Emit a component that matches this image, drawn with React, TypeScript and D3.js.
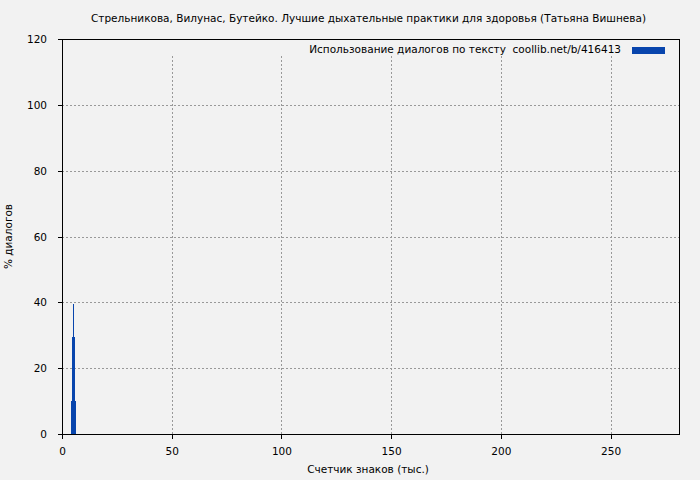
import React from 'react';
import * as d3 from 'd3';

// chart data
const title =
  'Стрельникова, Вилунас, Бутейко. Лучшие дыхательные практики для здоровья (Татьяна Вишнева)';
const legendLabel = 'Использование диалогов по тексту  coollib.net/b/416413';
const xLabel = 'Счетчик знаков (тыс.)';
const yLabel = '% диалогов';

const xTicks = [0, 50, 100, 150, 200, 250];
const yTicks = [0, 20, 40, 60, 80, 100, 120];

// overlapping impulses at the same position, drawn widest first
const barPositions = [5, 5, 5];
const barValues = [10, 29.5, 39.5];

const W = 700;
const H = 480;
const margin = { left: 62, right: 21, top: 39, bottom: 46 };
const barWidths = [5, 3, 1];
const blue = '#0845ad';
const font = 'DejaVu Sans, sans-serif';

export default function App() {
  const x = d3
    .scaleLinear()
    .domain([0, 281.2])
    .range([margin.left, W - margin.right]);
  const y = d3
    .scaleLinear()
    .domain([0, 120])
    .range([H - margin.bottom, margin.top]);

  const [x0, x1] = x.range();
  const [y0, y1] = y.range();

  return (
    <svg
      width={W}
      height={H}
      style={{ position: 'absolute', left: 0, top: 0, background: '#f2f2f2' }}
      fontFamily={font}
      fontSize={10.5}
    >
      <rect x={0} y={0} width={W} height={H} fill="#f2f2f2" />

      {/* grid */}
      {xTicks
        .filter((t) => t > 0)
        .map((t) => (
          <line
            key={'gx' + t}
            x1={Math.round(x(t)) + 0.5}
            x2={Math.round(x(t)) + 0.5}
            y1={y0}
            y2={y1}
            stroke="#999"
            strokeWidth={1}
            strokeDasharray="2,2"
          />
        ))}
      {yTicks
        .filter((t) => t > 0 && t < 120)
        .map((t) => (
          <line
            key={'gy' + t}
            x1={x0}
            x2={x1}
            y1={Math.round(y(t)) + 0.5}
            y2={Math.round(y(t)) + 0.5}
            stroke="#999"
            strokeWidth={1}
            strokeDasharray="2,2"
          />
        ))}

      {/* key background hides the grid */}
      <rect x={x0 + 1} y={y1 + 1} width={x1 - x0 - 2} height={16} fill="#f2f2f2" />

      {/* bars */}
      <g shapeRendering="crispEdges">
        {barValues.map((v, i) => (
          <rect
            key={'b' + i}
            x={Math.round(x(barPositions[i]) + 0.5 - barWidths[i] / 2)}
            y={Math.round(y(v))}
            width={barWidths[i]}
            height={Math.round(y(0)) - Math.round(y(v))}
            fill={blue}
          />
        ))}
      </g>

      {/* frame */}
      <rect
        x={x0 + 0.5}
        y={y1 + 0.5}
        width={x1 - x0}
        height={y0 - y1}
        fill="none"
        stroke="#000"
        strokeWidth={1}
      />

      {/* x ticks */}
      {xTicks.map((t) => (
        <g key={'xt' + t}>
          <line
            x1={Math.round(x(t)) + 0.5}
            x2={Math.round(x(t)) + 0.5}
            y1={y0}
            y2={y0 + 5}
            stroke="#000"
          />
          <text x={x(t) + 0.5} y={y0 + 21} textAnchor="middle" fill="#000">
            {t}
          </text>
        </g>
      ))}

      {/* y ticks */}
      {yTicks.map((t) => (
        <g key={'yt' + t}>
          <line
            x1={x0 - 4}
            x2={x0}
            y1={Math.round(y(t)) + 0.5}
            y2={Math.round(y(t)) + 0.5}
            stroke="#000"
          />
          <text x={x0 - 15} y={y(t) + 4} textAnchor="end" fill="#000">
            {t}
          </text>
        </g>
      ))}

      {/* key */}
      <text x={621} y={53} textAnchor="end" fill="#000" style={{ whiteSpace: 'pre' }}>
        {legendLabel}
      </text>
      <rect x={632} y={47} width={33} height={7} fill={blue} />

      {/* titles */}
      <text x={368.5} y={22} textAnchor="middle" fill="#000">
        {title}
      </text>
      <text x={368} y={473} textAnchor="middle" fill="#000">
        {xLabel}
      </text>
      <text
        transform={`translate(12,${(y0 + y1) / 2}) rotate(-90)`}
        textAnchor="middle"
        fill="#000"
      >
        {yLabel}
      </text>
    </svg>
  );
}
